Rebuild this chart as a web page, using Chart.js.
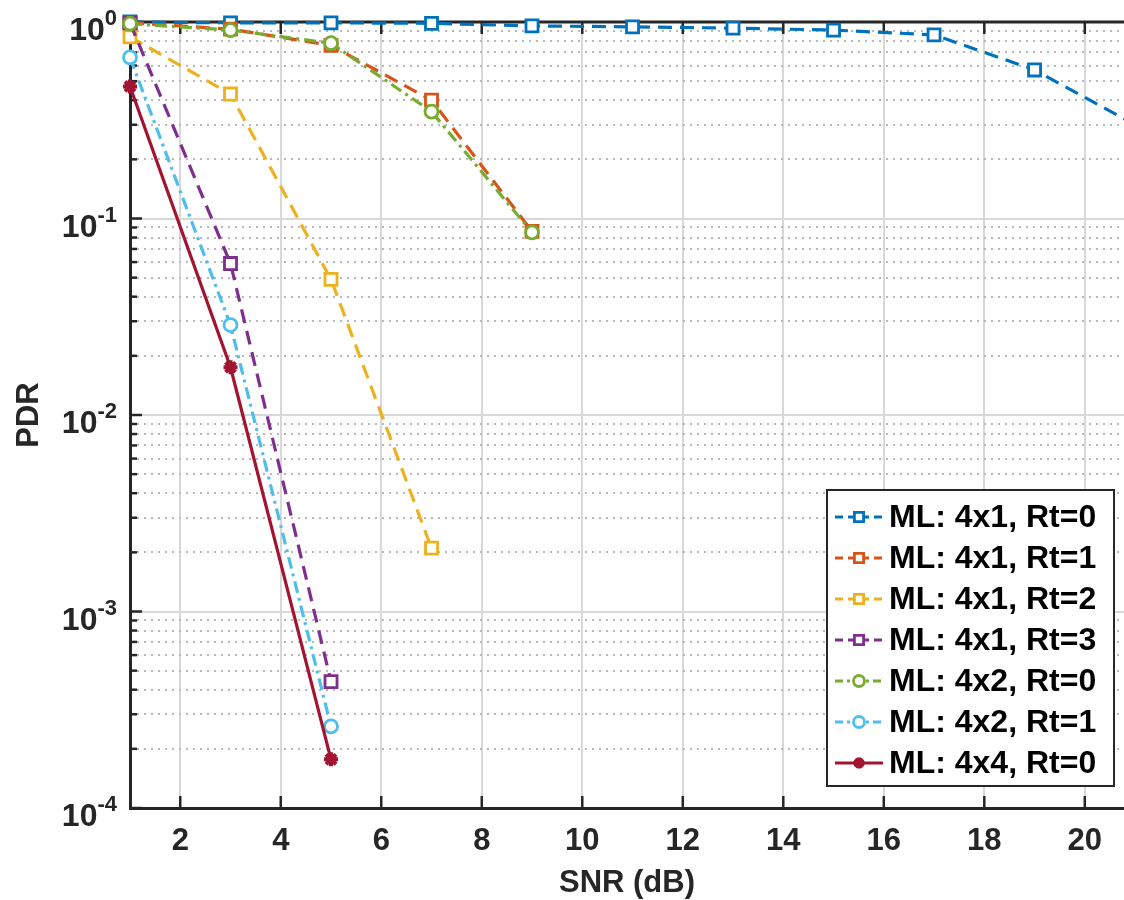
<!DOCTYPE html>
<html>
<head>
<meta charset="utf-8">
<script src="https://cdn.jsdelivr.net/npm/chart.js@4.4.1/dist/chart.umd.min.js"></script>
<style>
  html, body { margin: 0; padding: 0; background: #fff; }
  #wrap { width: 1124px; height: 900px; }
</style>
</head>
<body>
<div id="wrap"><canvas id="pdr" width="1124" height="900"></canvas></div>
<script>
// --- data ---
var seriesNames = [
  "ML: 4x1, Rt=0", "ML: 4x1, Rt=1", "ML: 4x1, Rt=2", "ML: 4x1, Rt=3",
  "ML: 4x2, Rt=0", "ML: 4x2, Rt=1", "ML: 4x4, Rt=0"
];
var snrLong = [1, 3, 5, 7, 9, 11, 13, 15, 17, 19, 21];
var snrMid = [1, 3, 5, 7, 9];
var snrShort7 = [1, 3, 5, 7];
var snrShort = [1, 3, 5];

var pdr4x1Rt0 = [1.0, 0.99, 0.99, 0.985, 0.955, 0.945, 0.93, 0.91, 0.86, 0.57, 0.30];
var pdr4x1Rt1 = [0.99, 0.92, 0.76, 0.40, 0.086];
var pdr4x1Rt2 = [0.84, 0.43, 0.049, 0.0021];
var pdr4x1Rt3 = [0.99, 0.059, 0.00044];
var pdr4x2Rt0 = [0.98, 0.91, 0.78, 0.35, 0.085];
var pdr4x2Rt1 = [0.66, 0.0287, 0.00026];
var pdr4x4Rt0 = [0.47, 0.0175, 0.000177];

var xTickValues = [2, 4, 6, 8, 10, 12, 14, 16, 18, 20];
var yDecades = [1e-4, 1e-3, 1e-2, 1e-1, 1];
var yDecadeExp = ["-4", "-3", "-2", "-1", "0"];

var FONT = "'Liberation Sans', Arial, sans-serif";
var INK = "#262626";

function pts(xs, ys) {
  return ys.map(function (v, i) { return { x: xs[i], y: v }; });
}

var dashed = [14, 8];
var dashDot = [12, 5, 3, 5];

var styles = [
  { color: "#0072BD", dash: dashed, marker: "rect" },
  { color: "#D95319", dash: dashed, marker: "rect" },
  { color: "#EDB120", dash: dashed, marker: "rect" },
  { color: "#7E2F8E", dash: dashed, marker: "rect" },
  { color: "#77AC30", dash: dashDot, marker: "circle" },
  { color: "#4DBEEE", dash: dashDot, marker: "circle" },
  { color: "#A2142F", dash: [], marker: "star" }
];
var seriesData = [
  pts(snrLong, pdr4x1Rt0),
  pts(snrMid, pdr4x1Rt1),
  pts(snrShort7, pdr4x1Rt2),
  pts(snrShort, pdr4x1Rt3),
  pts(snrMid, pdr4x2Rt0),
  pts(snrShort, pdr4x2Rt1),
  pts(snrShort, pdr4x4Rt0)
];

function markerRadius(m) {
  if (m === "rect") return 8.5;
  if (m === "circle") return 6.5;
  return 7;
}

var datasets = seriesData.map(function (d, i) {
  var s = styles[i];
  return {
    label: seriesNames[i],
    data: d,
    borderColor: s.color,
    borderWidth: 3.2,
    borderDash: s.dash,
    pointStyle: s.marker,
    pointRadius: markerRadius(s.marker),
    pointBorderWidth: s.marker === "star" ? 4 : 2.8,
    pointBackgroundColor: s.marker === "star" ? s.color : "#fff",
    pointBorderColor: s.color,
    fill: false,
    tension: 0,
    clip: false,
    order: seriesNames.length - i
  };
});

// inward ticks, top box edge, y labels with exponents, legend
var matlabAxes = {
  id: "matlabAxes",
  beforeDatasetsDraw: function (chart) {
    var ctx = chart.ctx, a = chart.chartArea;
    var xs = chart.scales.x, ys = chart.scales.y;
    ctx.save();
    ctx.strokeStyle = INK;
    ctx.lineWidth = 3;
    ctx.beginPath();
    ctx.moveTo(a.left - 1.5, a.top);
    ctx.lineTo(a.right, a.top);
    ctx.stroke();
    ctx.lineWidth = 2.5;
    xTickValues.forEach(function (v) {
      var px = xs.getPixelForValue(v);
      ctx.beginPath();
      ctx.moveTo(px, a.bottom);
      ctx.lineTo(px, a.bottom - 12);
      ctx.moveTo(px, a.top);
      ctx.lineTo(px, a.top + 12);
      ctx.stroke();
    });
    for (var e = -4; e <= 0; e++) {
      for (var m = 1; m <= 9; m++) {
        var v = m * Math.pow(10, e);
        if (v > 1.0001) break;
        var py = ys.getPixelForValue(v);
        ctx.beginPath();
        ctx.moveTo(a.left, py);
        ctx.lineTo(a.left + (m === 1 ? 12 : 7), py);
        ctx.stroke();
      }
    }
    ctx.restore();
  },
  afterDraw: function (chart) {
    var ctx = chart.ctx, a = chart.chartArea;
    var ys = chart.scales.y;
    ctx.save();
    // y tick labels 10^k
    ctx.fillStyle = INK;
    ctx.textAlign = "right";
    ctx.textBaseline = "alphabetic";
    yDecades.forEach(function (v, i) {
      var py = ys.getPixelForValue(v);
      ctx.font = "bold 22px " + FONT;
      var ew = ctx.measureText(yDecadeExp[i]).width;
      ctx.fillText(yDecadeExp[i], 117, py + 3);
      ctx.font = "bold 32px " + FONT;
      ctx.fillText("10", 117 - ew, py + 18);
    });

    // legend box
    var bx = a.right - 297, by = a.top + 468, bw = 287, bh = 296;
    ctx.fillStyle = "#fff";
    ctx.fillRect(bx, by, bw, bh);
    ctx.strokeStyle = INK;
    ctx.lineWidth = 2;
    ctx.strokeRect(bx, by, bw, bh);
    ctx.font = "bold 32px " + FONT;
    ctx.textAlign = "left";
    ctx.textBaseline = "middle";
    chart.data.datasets.forEach(function (ds, i) {
      var cy = by + 27 + i * 41;
      ctx.save();
      ctx.strokeStyle = ds.borderColor;
      ctx.lineWidth = 3;
      ctx.setLineDash(ds.borderDash && ds.borderDash.length ? [8, 5] : []);
      if (ds.borderDash && ds.borderDash.length === 4) ctx.setLineDash([8, 4, 3, 4]);
      ctx.beginPath();
      ctx.moveTo(bx + 8, cy);
      ctx.lineTo(bx + 56, cy);
      ctx.stroke();
      ctx.setLineDash([]);
      ctx.fillStyle = ds.pointBackgroundColor;
      ctx.strokeStyle = ds.pointBorderColor;
      ctx.lineWidth = ds.pointBorderWidth;
      Chart.helpers.drawPoint(ctx, {
        pointStyle: ds.pointStyle,
        radius: ds.pointStyle === "rect" ? 6.5 : 5.5,
        rotation: 0,
        borderWidth: ds.pointBorderWidth
      }, bx + 32, cy);
      ctx.restore();
      ctx.fillStyle = "#000";
      ctx.fillText(ds.label, bx + 62, cy + 1);
    });
    ctx.restore();
  }
};

new Chart(document.getElementById("pdr"), {
  type: "line",
  data: { datasets: datasets },
  plugins: [matlabAxes],
  options: {
    responsive: false,
    devicePixelRatio: 1,
    animation: false,
    layout: { autoPadding: false, padding: { top: 22, right: 0, left: 0, bottom: 0 } },
    plugins: { legend: { display: false }, tooltip: { enabled: false } },
    scales: {
      x: {
        type: "linear",
        min: 1,
        max: 20.78,
        afterBuildTicks: function (s) {
          s.ticks = xTickValues.map(function (v) { return { value: v }; });
        },
        afterFit: function (s) { s.height = 92; },
        grid: { color: "#d8d8d8", lineWidth: 2, drawTicks: false },
        border: { color: INK, width: 3 },
        ticks: {
          color: INK,
          font: { family: FONT, size: 31, weight: "bold" },
          padding: 15,
          maxRotation: 0,
          autoSkip: false
        },
        title: {
          display: true,
          text: "SNR (dB)",
          color: INK,
          font: { family: FONT, size: 31, weight: "bold", lineHeight: 1 },
          padding: { top: 0, bottom: 1 }
        }
      },
      y: {
        type: "logarithmic",
        min: 1e-4,
        max: 1,
        afterBuildTicks: function (s) {
          s.ticks = yDecades.map(function (v) { return { value: v, major: true }; });
        },
        afterFit: function (s) { s.width = 130; },
        grid: { color: "#d8d8d8", lineWidth: 2, drawTicks: false },
        border: { color: INK, width: 3 },
        ticks: { display: false },
        title: {
          display: true,
          text: "PDR",
          color: INK,
          font: { family: FONT, size: 31, weight: "bold", lineHeight: 1 },
          padding: { top: 14, bottom: 0 }
        }
      },
      yMinor: {
        type: "logarithmic",
        position: "left",
        min: 1e-4,
        max: 1,
        afterBuildTicks: function (s) {
          var t = [];
          for (var e = -4; e < 0; e++) {
            for (var m = 2; m <= 9; m++) t.push({ value: m * Math.pow(10, e) });
          }
          s.ticks = t;
        },
        afterFit: function (s) { s.width = 0; },
        grid: { color: "#b8b8b8", lineWidth: 2, drawTicks: false },
        border: { display: false, dash: [2, 5] },
        ticks: { display: false }
      }
    }
  }
});
</script>
</body>
</html>
